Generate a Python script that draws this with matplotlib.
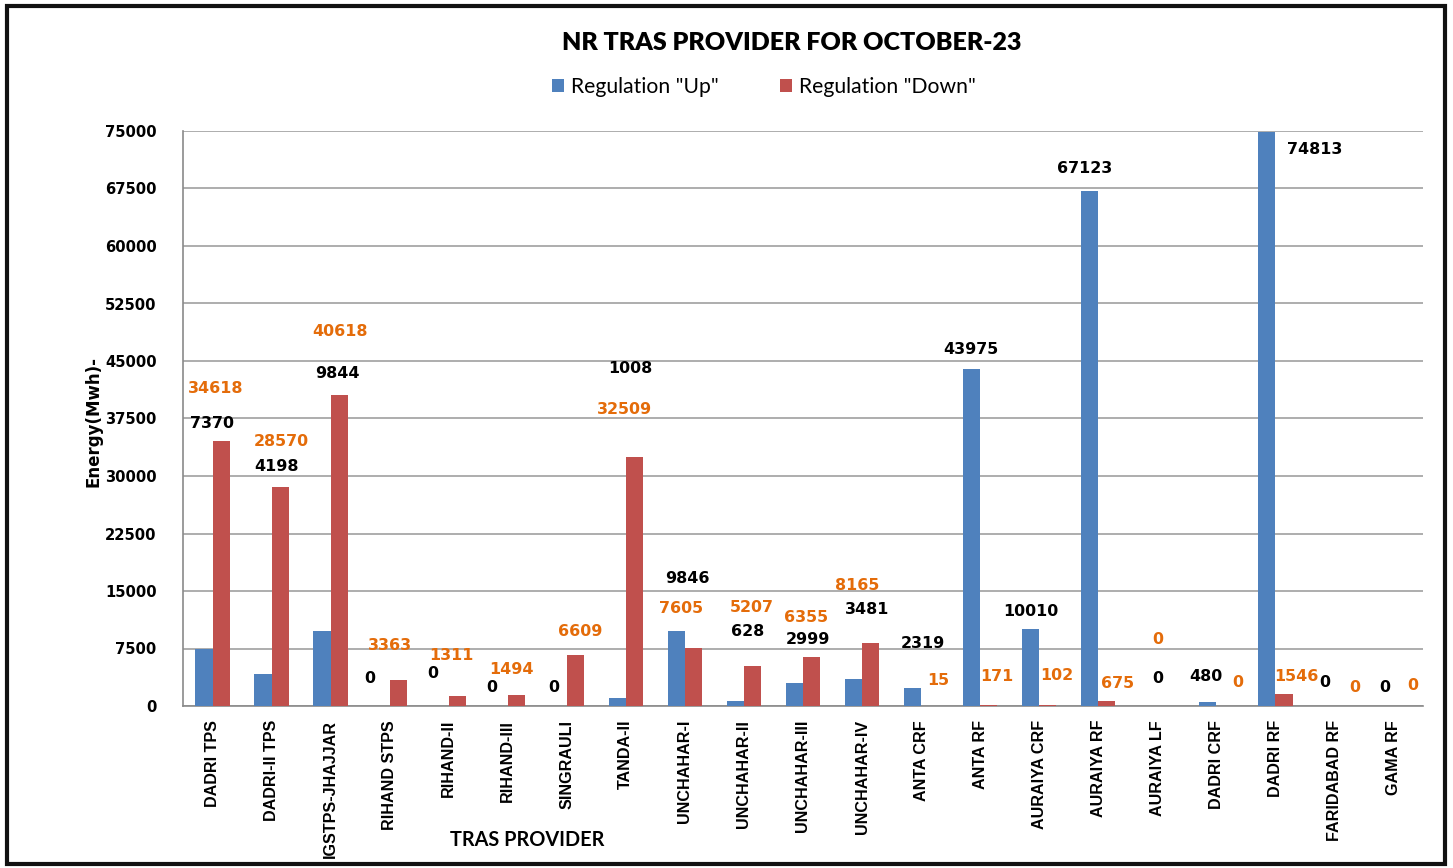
import matplotlib
matplotlib.use('Agg')
import matplotlib.pyplot as plt
import numpy as np
from matplotlib.patches import Rectangle

providers = ['DADRI TPS', 'DADRI-II TPS', 'IGSTPS-JHAJJAR', 'RIHAND STPS', 'RIHAND-II',
             'RIHAND-III', 'SINGRAULI', 'TANDA-II', 'UNCHAHAR-I', 'UNCHAHAR-II',
             'UNCHAHAR-III', 'UNCHAHAR-IV', 'ANTA CRF', 'ANTA RF', 'AURAIYA CRF',
             'AURAIYA RF', 'AURAIYA LF', 'DADRI CRF', 'DADRI RF', 'FARIDABAD RF', 'GAMA RF']
reg_up = [7370, 4198, 9844, 0, 0, 0, 0, 1008, 9846, 628, 2999, 3481, 2319, 43975,
          10010, 67123, 0, 480, 74813, 0, 0]
reg_down = [34618, 28570, 40618, 3363, 1311, 1494, 6609, 32509, 7605, 5207, 6355, 8165,
            15, 171, 102, 675, 0, 0, 1546, 0, 0]
y_ticks = [0, 7500, 15000, 22500, 30000, 37500, 45000, 52500, 60000, 67500, 75000]

# label anchors as they were hand-placed in the original sheet (x offset, y in data units)
up_lbl_dx = [-0.01, 0.09, 0.12, -0.33, -0.27, -0.27, -0.22, 0.07, 0.05, 0.07, 0.08, 0.08,
             0.03, -0.16, -0.14, -0.23, 0.0, -0.18, 0.67, -0.16, -0.15]
up_lbl_y = [36912, 31304, 43433, 3652, 4304, 2348, 2478, 44085, 16695, 9782, 8739, 12652,
            8087, 46565, 12391, 70171, 3652, 3783, 72650, 3130, 2478]
dn_lbl_dx = [0.06, 0.16, 0.16, 0.0, 0.04, 0.07, 0.22, -0.03, -0.07, 0.14, 0.05, -0.09,
             0.29, 0.28, 0.30, 0.32, 0.0, 0.37, 0.35, 0.34, 0.33]
dn_lbl_y = [41477, 34564, 48913, 7956, 6652, 4696, 9782, 38738, 12782, 12913, 11608, 15782,
            3391, 3783, 4043, 3000, 8609, 3130, 3783, 2348, 2739]

BLUE = '#4F81BD'
RED = '#C0504D'
ORANGE = '#E46C0A'

W, H = 1453, 868
fig = plt.figure(figsize=(W / 100, H / 100), dpi=100)
fig.patch.set_facecolor('white')
ax = fig.add_axes([183 / W, (H - 706) / H, (1423 - 183) / W, (706 - 131) / H])

x = np.arange(len(providers))
bw = 0.29
ax.bar(x - bw / 2, reg_up, bw, color=BLUE, label='Regulation "Up"', zorder=3)
ax.bar(x + bw / 2, reg_down, bw, color=RED, label='Regulation "Down"', zorder=3)

ax.set_xlim(-0.5, len(providers) - 0.5)
ax.set_ylim(0, 75000)
ax.set_yticks(y_ticks)
ax.set_yticklabels([str(v) for v in y_ticks], fontsize=10.6, fontweight='bold',
                   family='DejaVu Sans')
ax.tick_params(axis='y', length=0, pad=19)
ax.set_xticks(x)
ax.set_xticklabels(providers, rotation=90, fontsize=11.6, fontweight='bold',
                   family='Liberation Sans', va='top')
ax.tick_params(axis='x', length=0, pad=10)
ax.yaxis.grid(True, color='#a0a0a0', linewidth=1.2, zorder=0)
for s in ['top', 'right']:
    ax.spines[s].set_visible(False)
for s in ['left', 'bottom']:
    ax.spines[s].set_color('#8a8a8a')
    ax.spines[s].set_linewidth(1.2)

for i in range(len(providers)):
    ax.text(i + up_lbl_dx[i], up_lbl_y[i], str(reg_up[i]), ha='center', va='center',
            fontsize=11.4, fontweight='bold', color='black', family='DejaVu Sans',
            clip_on=False, zorder=5)
    ax.text(i + dn_lbl_dx[i], dn_lbl_y[i], str(reg_down[i]), ha='center', va='center',
            fontsize=11.4, fontweight='bold', color=ORANGE, family='DejaVu Sans',
            clip_on=False, zorder=5)

fig.text(93 / W, 1 - 422 / H, 'Energy(Mwh)-', rotation=90, ha='center', va='center',
         fontsize=12, fontweight='bold', family='DejaVu Sans')
fig.text(527 / W, 1 - 840 / H, 'TRAS PROVIDER', ha='center', va='center',
         fontsize=14.3, fontweight='bold', family='Lato')
fig.text(792 / W, 1 - 43 / H, 'NR TRAS PROVIDER FOR OCTOBER-23', ha='center', va='center',
         fontsize=18, fontweight='heavy', family='Lato')

leg = fig.legend(loc='center', bbox_to_anchor=(764 / W, 1 - 87 / H), ncol=2, frameon=False,
                 prop={'family': 'Lato', 'size': 15.2}, handlelength=0.55, handleheight=0.55,
                 handletextpad=0.35, columnspacing=2.9)

fig.add_artist(Rectangle((7 / W, 4 / H), (1445 - 7) / W, (862 - 4) / H,
                         transform=fig.transFigure, fill=False, edgecolor='#111111',
                         linewidth=3))

fig.savefig('out.png', dpi=100, facecolor='white')
